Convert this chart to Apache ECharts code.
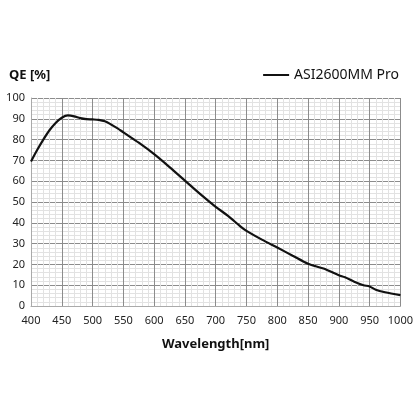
<!DOCTYPE html>
<html>
<head>
<meta charset="utf-8">
<script src="https://cdn.jsdelivr.net/npm/echarts@6/dist/echarts.min.js"></script>
<style>
  html, body { margin: 0; padding: 0; background: #fff; }
  #main { width: 416px; height: 416px; }
</style>
</head>
<body>
<div id="main"></div>
<script>
const wavelength = [400, 410, 420, 430, 440, 450, 460, 470, 480, 490, 500, 510, 520, 530, 540, 550, 575, 600, 625, 650, 675, 700, 720, 740, 750, 775, 800, 825, 850, 875, 900, 910, 925, 940, 950, 960, 975, 1000];
const qe = [69.5, 75, 80, 84.5, 88, 90.5, 91.6, 91.2, 90.3, 89.8, 89.7, 89.5, 88.8, 87.3, 85.5, 83.5, 78.5, 73, 66.8, 60.3, 53.8, 47.7, 43.3, 38.3, 36.1, 31.9, 28.1, 24.2, 20.3, 18, 14.8, 13.8, 11.7, 10, 9.4, 7.8, 6.6, 5.2];
const seriesName = 'ASI2600MM Pro';

const chartDom = document.getElementById('main');
const myChart = echarts.init(chartDom);

const font = '"Noto Sans", sans-serif';

const option = {
    backgroundColor: '#fff',
    animation: false,
    textStyle: { fontFamily: font },
    title: {
        text: 'QE [%]',
        left: 4,
        top: 64,
        textStyle: { fontSize: 13, fontWeight: 'bold', color: '#111', fontFamily: font }
    },
    legend: {
        right: 12,
        top: 63,
        itemWidth: 26,
        itemHeight: 10,
        itemGap: 8,
        textStyle: { fontSize: 14, color: '#111', fontFamily: font },
        data: [{ name: seriesName, icon: 'path://M0,4 L26,4 L26,6 L0,6 Z' }]
    },
    grid: {
        left: 31,
        right: 14,
        top: 98,
        bottom: 110
    },
    xAxis: {
        type: 'value',
        min: 400,
        max: 1000,
        interval: 50,
        name: 'Wavelength[nm]',
        nameLocation: 'middle',
        nameGap: 32,
        nameTextStyle: { fontSize: 13, fontWeight: 'bold', color: '#111' },
        axisLine: { show: true, lineStyle: { color: '#aaa' } },
        axisTick: { show: false },
        axisLabel: { fontSize: 11, color: '#222', margin: 9, formatter: function (v) { return String(v); } },
        splitLine: { show: true, lineStyle: { color: '#8c8c8c', width: 1 } },
        minorTick: { show: false, splitNumber: 5 },
        minorSplitLine: { show: true, lineStyle: { color: '#e2e2e2', width: 1 } }
    },
    yAxis: {
        type: 'value',
        min: 0,
        max: 100,
        interval: 10,
        axisLine: { show: true, lineStyle: { color: '#aaa' } },
        axisTick: { show: false },
        axisLabel: { fontSize: 11, color: '#222', margin: 6 },
        splitLine: { show: true, lineStyle: { color: '#8c8c8c', width: 1 } },
        minorTick: { show: false, splitNumber: 5 },
        minorSplitLine: { show: true, lineStyle: { color: '#e2e2e2', width: 1 } }
    },
    series: [
        {
            name: seriesName,
            type: 'line',
            smooth: 0.3,
            symbol: 'none',
            lineStyle: { color: '#111', width: 2.2 },
            itemStyle: { color: '#111' },
            data: wavelength.map(function (w, i) { return [w, qe[i]]; })
        }
    ]
};

myChart.setOption(option);
</script>
</body>
</html>
